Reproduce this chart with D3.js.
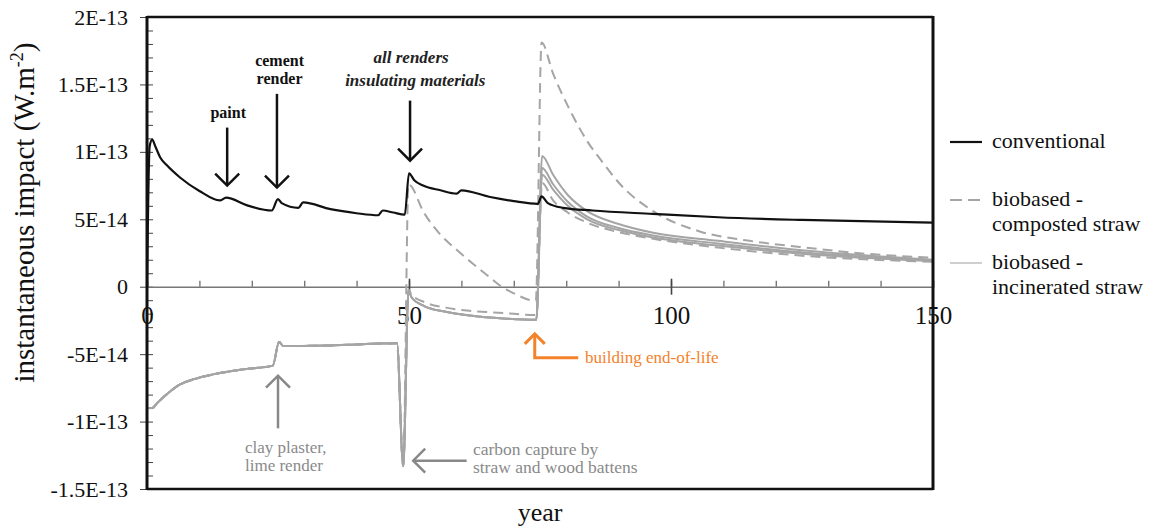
<!DOCTYPE html>
<html>
<head>
<meta charset="utf-8">
<script src="https://cdn.jsdelivr.net/npm/d3@7"></script>
<style>
  body { margin: 0; background: #fff; }
  svg { display: block; }
</style>
</head>
<body>
<div id="chart"></div>
<script>
// ---- data ----
const yTickValues = [-1.5e-13, -1e-13, -5e-14, 0, 5e-14, 1e-13, 1.5e-13, 2e-13];
const yTickLabels = ["-1.5E-13", "-1E-13", "-5E-14", "0", "5E-14", "1E-13", "1.5E-13", "2E-13"];
const xTickValues = [0, 50, 100, 150];
const xTickLabels = ["0", "50", "100", "150"];

// [year, W.m-2]
const conventional = [
  [0, 0], [0.5, 1.04e-13], [1, 1.09e-13], [1.6, 1.04e-13], [2.5, 9.6e-14], [3.8, 9.0e-14],
  [6.3, 8.1e-14], [10, 7.1e-14], [13.9, 6.4e-14], [15.1, 6.6e-14], [19, 6.05e-14],
  [23.8, 5.65e-14], [25, 6.5e-14], [25.7, 6.2e-14], [28.9, 5.85e-14], [29.8, 6.25e-14],
  [35, 5.75e-14], [40, 5.45e-14], [44.1, 5.3e-14], [45, 5.65e-14], [47, 5.5e-14],
  [49.2, 5.35e-14], [50, 8.4e-14], [51, 7.9e-14], [52.7, 7.5e-14], [56, 7.15e-14],
  [59.1, 6.9e-14], [60, 7.15e-14], [65.5, 6.65e-14], [70, 6.35e-14], [74.6, 6.15e-14],
  [75.3, 6.7e-14], [76.5, 6.2e-14], [79.4, 5.85e-14], [85, 5.65e-14], [96.5, 5.4e-14],
  [109, 5.15e-14], [125, 4.95e-14], [150, 4.75e-14]
];

// common to every biobased variant until the insulation renewal
const biobasedShared = [
  [0, -9.0e-14], [1, -9.0e-14], [2, -8.6e-14], [4, -7.9e-14], [6.3, -7.25e-14],
  [9, -6.85e-14], [12.6, -6.5e-14], [19, -6.1e-14], [24, -5.85e-14], [25.2, -4.1e-14],
  [26, -4.4e-14], [35, -4.35e-14], [47.7, -4.2e-14], [48.9, -1.33e-13]
];

const compostedHigh = [
  [49.9, 7.6e-14], [50.3, 7.5e-14], [52.7, 5.6e-14], [55.9, 3.9e-14], [59.2, 2.7e-14],
  [62.2, 1.7e-14], [65.5, 0.67e-14], [67.4, 0.07e-14], [69.8, -0.45e-14], [74.2, -1.05e-14],
  [75.3, 1.81e-13], [77.5, 1.58e-13], [80.7, 1.31e-13], [84, 1.08e-13], [87, 9.2e-14],
  [90.3, 7.6e-14], [96.6, 5.6e-14], [105.5, 4.1e-14], [115, 3.4e-14], [124.6, 2.95e-14],
  [137, 2.45e-14], [150, 2.15e-14]
];
const compostedLow = [
  [49.9, -0.2e-14], [50.5, -0.6e-14], [53, -1.15e-14], [57, -1.55e-14], [62, -1.8e-14],
  [68, -1.95e-14], [74.3, -2.1e-14], [75.4, 7.7e-14], [77.5, 6.4e-14], [80.3, 5.5e-14],
  [84, 4.75e-14], [90, 4.05e-14], [96.6, 3.55e-14], [109, 2.9e-14], [125, 2.3e-14],
  [150, 1.85e-14]
];
const incineratedA = [
  [49.9, -0.3e-14], [50.5, -0.8e-14], [53, -1.45e-14], [57, -1.85e-14], [62, -2.15e-14],
  [68, -2.35e-14], [74.3, -2.45e-14], [75.4, 9.7e-14], [77.5, 8.3e-14], [80.3, 6.8e-14],
  [84, 5.6e-14], [90, 4.65e-14], [96.6, 4.0e-14], [109, 3.4e-14], [125, 2.7e-14],
  [150, 2.0e-14]
];
const incineratedB = [
  [49.9, -0.3e-14], [50.5, -0.8e-14], [53, -1.45e-14], [57, -1.85e-14], [62, -2.15e-14],
  [68, -2.35e-14], [74.3, -2.45e-14], [75.4, 8.8e-14], [77.5, 7.6e-14], [80.3, 6.3e-14],
  [84, 5.2e-14], [90, 4.35e-14], [96.6, 3.8e-14], [109, 3.2e-14], [125, 2.55e-14],
  [150, 1.95e-14]
];
const incineratedC = [
  [49.9, -0.3e-14], [50.5, -0.8e-14], [53, -1.45e-14], [57, -1.85e-14], [62, -2.15e-14],
  [68, -2.35e-14], [74.3, -2.45e-14], [75.4, 8.3e-14], [77.5, 7.2e-14], [80.3, 6.0e-14],
  [84, 5.0e-14], [90, 4.2e-14], [96.6, 3.65e-14], [109, 3.05e-14], [125, 2.45e-14],
  [150, 1.9e-14]
];

const legendLabels = [["conventional"], ["biobased -", "composted straw"], ["biobased -", "incinerated straw"]];

// ---- layout ----
const width = 1160, height = 529;
const margin = { top: 17, right: 227, bottom: 40, left: 147 };
const FONT = '"Liberation Serif", "Times New Roman", Times, serif';
const GREY = "#a5a5a5";

const svg = d3.select("#chart").append("svg")
  .attr("width", width).attr("height", height)
  .style("background", "#fff");

const x = d3.scaleLinear().domain([0, 150]).range([margin.left, width - margin.right]);
const y = d3.scaleLinear().domain([-1.5e-13, 2e-13]).range([height - margin.bottom, margin.top]);

// Y axis: major ticks outside, minor ticks inside
svg.append("g")
  .attr("transform", `translate(${x(0)},0)`)
  .call(d3.axisLeft(y).tickValues(d3.range(-15, 21, 1).map(d => d * 1e-14)).tickSize(-6).tickFormat(""))
  .call(g => g.select(".domain").remove())
  .call(g => g.selectAll("line").attr("stroke", "#444"));

svg.append("g")
  .attr("transform", `translate(${x(0)},0)`)
  .call(d3.axisLeft(y).tickValues(yTickValues).tickSize(7).tickPadding(12)
    .tickFormat((d, i) => yTickLabels[i]))
  .call(g => g.select(".domain").remove())
  .call(g => g.selectAll("line").attr("stroke", "#444"))
  .call(g => g.selectAll("text").attr("font-family", FONT).attr("font-size", 22).attr("fill", "#111"));

// X axis along zero
const xAxisG = svg.append("g").attr("transform", `translate(0,${y(0)})`);
xAxisG.call(d3.axisBottom(x).tickValues(d3.range(0, 151, 10)).tickSize(-6).tickFormat(""))
  .call(g => g.select(".domain").attr("stroke", "#777").attr("stroke-width", 1.6))
  .call(g => g.selectAll("line").attr("stroke", "#777").attr("stroke-width", 1.4));
xAxisG.append("g")
  .call(d3.axisBottom(x).tickValues([50, 100]).tickSize(8).tickFormat(""))
  .call(g => g.select(".domain").remove())
  .call(g => g.selectAll("line").attr("stroke", "#444").attr("stroke-width", 1.6));
xAxisG.append("g")
  .call(d3.axisTop(x).tickValues([50, 100]).tickSize(8).tickFormat(""))
  .call(g => g.select(".domain").remove())
  .call(g => g.selectAll("line").attr("stroke", "#444").attr("stroke-width", 1.6));

// series
const line = d3.line()
  .x(d => x(d[0]))
  .y(d => y(d[1]))
  .curve(d3.curveMonotoneX);

const greySeries = [
  { data: biobasedShared.concat(incineratedA), dash: null },
  { data: biobasedShared.concat(incineratedB), dash: null },
  { data: biobasedShared.concat(incineratedC), dash: null },
  { data: biobasedShared.concat(compostedLow), dash: "10,6" },
  { data: biobasedShared.concat(compostedHigh), dash: "10,6" }
];

svg.append("g").selectAll("path")
  .data(greySeries)
  .join("path")
  .attr("d", d => line(d.data))
  .attr("fill", "none")
  .attr("stroke", GREY)
  .attr("stroke-width", 2)
  .attr("stroke-dasharray", d => d.dash);

svg.append("path")
  .attr("d", line(conventional))
  .attr("fill", "none")
  .attr("stroke", "#111")
  .attr("stroke-width", 2.2);

// x tick labels (drawn below the zero line)
xAxisG.append("g")
  .call(d3.axisBottom(x).tickValues(xTickValues).tickSize(0).tickPadding(20)
    .tickFormat((d, i) => xTickLabels[i]))
  .call(g => g.select(".domain").remove())
  .call(g => g.selectAll("text").attr("font-family", FONT).attr("font-size", 25).attr("fill", "#111"));

// frame
const fr = svg.append("g").attr("stroke", "#111").attr("fill", "none");
fr.append("line").attr("x1", x(0)).attr("x2", x(150)).attr("y1", y(2e-13)).attr("y2", y(2e-13)).attr("stroke-width", 2.5);
fr.append("line").attr("x1", x(0)).attr("x2", x(150)).attr("y1", y(-1.5e-13)).attr("y2", y(-1.5e-13)).attr("stroke-width", 2.5);
fr.append("line").attr("x1", x(0)).attr("x2", x(0)).attr("y1", y(2e-13) - 1).attr("y2", y(-1.5e-13) + 1).attr("stroke-width", 3);
fr.append("line").attr("x1", x(150)).attr("x2", x(150)).attr("y1", y(2e-13) - 1).attr("y2", y(-1.5e-13) + 1).attr("stroke-width", 3);

// axis titles
svg.append("text")
  .attr("x", x(75)).attr("y", 521)
  .attr("text-anchor", "middle")
  .attr("font-family", FONT).attr("font-size", 26).attr("fill", "#111")
  .text("year");

const yTitle = svg.append("text")
  .attr("transform", `translate(34,${y(0.55e-13)}) rotate(-90)`)
  .attr("text-anchor", "middle")
  .attr("font-family", FONT).attr("font-size", 29).attr("fill", "#111");
yTitle.append("tspan").text("instantaneous impact (W.m");
yTitle.append("tspan").attr("font-size", 18).attr("dy", -11).text("-2");
yTitle.append("tspan").attr("dy", 11).text(")");

// legend
const lgX = 950, lgY = [142, 200, 263];
const lg = svg.append("g");
lg.append("line").attr("x1", lgX).attr("x2", lgX + 32).attr("y1", lgY[0]).attr("y2", lgY[0])
  .attr("stroke", "#111").attr("stroke-width", 2.2);
lg.append("line").attr("x1", lgX).attr("x2", lgX + 32).attr("y1", lgY[1]).attr("y2", lgY[1])
  .attr("stroke", GREY).attr("stroke-width", 2).attr("stroke-dasharray", "12,6");
lg.append("line").attr("x1", lgX).attr("x2", lgX + 32).attr("y1", lgY[2]).attr("y2", lgY[2])
  .attr("stroke", "#cfcfcf").attr("stroke-width", 2);
legendLabels.forEach((lines, i) => {
  const t = lg.append("text")
    .attr("x", 992).attr("y", lgY[i] + 6)
    .attr("font-family", FONT).attr("font-size", 22).attr("fill", "#111");
  lines.forEach((s, j) => t.append("tspan").attr("x", 992).attr("dy", j ? 25 : 0).text(s));
});

// annotations
const ann = svg.append("g").attr("font-family", FONT);

function downArrow(g, xv, y0, y1, color) {
  const px = x(xv), top = y(y0), tip = y(y1);
  g.append("line").attr("x1", px).attr("x2", px).attr("y1", top).attr("y2", tip)
    .attr("stroke", color).attr("stroke-width", 2.5);
  g.append("path").attr("d", `M${px - 12},${tip - 12} L${px},${tip} L${px + 12},${tip - 12}`)
    .attr("fill", "none").attr("stroke", color).attr("stroke-width", 2.5);
}
function upArrow(g, xv, y0, y1, color) {
  const px = x(xv), bot = y(y0), tip = y(y1);
  g.append("line").attr("x1", px).attr("x2", px).attr("y1", bot).attr("y2", tip)
    .attr("stroke", color).attr("stroke-width", 2.5);
  g.append("path").attr("d", `M${px - 12},${tip + 12} L${px},${tip} L${px + 12},${tip + 12}`)
    .attr("fill", "none").attr("stroke", color).attr("stroke-width", 2.5);
}

// paint
downArrow(ann, 15.3, 1.18e-13, 7.5e-14, "#111");
ann.append("text").attr("x", x(15.5)).attr("y", y(1.25e-13)).attr("text-anchor", "middle")
  .attr("font-size", 16).attr("font-weight", "bold").attr("fill", "#111").text("paint");

// cement render
downArrow(ann, 24.8, 1.43e-13, 7.35e-14, "#111");
ann.append("text").attr("x", x(25.3)).attr("y", y(1.64e-13)).attr("text-anchor", "middle")
  .attr("font-size", 16).attr("font-weight", "bold").attr("fill", "#111").text("cement");
ann.append("text").attr("x", x(25.3)).attr("y", y(1.5e-13)).attr("text-anchor", "middle")
  .attr("font-size", 16).attr("font-weight", "bold").attr("fill", "#111").text("render");

// all renders / insulating materials
downArrow(ann, 50.2, 1.38e-13, 9.35e-14, "#111");
ann.append("text").attr("x", x(50.4)).attr("y", y(1.66e-13)).attr("text-anchor", "middle")
  .attr("font-size", 17).attr("font-weight", "bold").attr("font-style", "italic").attr("fill", "#222")
  .text("all renders");
ann.append("text").attr("x", x(51.2)).attr("y", y(1.49e-13)).attr("text-anchor", "middle")
  .attr("font-size", 17).attr("font-weight", "bold").attr("font-style", "italic").attr("fill", "#222")
  .text("insulating materials");

// building end-of-life (orange elbow arrow)
const ORANGE = "#f3822c";
{
  const px = x(74), tip = y(-3.5e-14), yy = y(-5.27e-14);
  ann.append("path").attr("d", `M${x(82.3)},${yy} L${px},${yy} L${px},${tip}`)
    .attr("fill", "none").attr("stroke", ORANGE).attr("stroke-width", 3);
  ann.append("path").attr("d", `M${px - 10},${tip + 10} L${px},${tip} L${px + 10},${tip + 10}`)
    .attr("fill", "none").attr("stroke", ORANGE).attr("stroke-width", 3);
  ann.append("text").attr("x", x(83.6)).attr("y", yy + 5)
    .attr("font-size", 17).attr("fill", ORANGE).text("building end-of-life");
}

// clay plaster, lime render
upArrow(ann, 25, -1.05e-13, -6.6e-14, "#888");
ann.append("text").attr("x", x(18.7)).attr("y", y(-1.23e-13))
  .attr("font-size", 17).attr("fill", "#8a8a8a").text("clay plaster,");
ann.append("text").attr("x", x(18.7)).attr("y", y(-1.365e-13))
  .attr("font-size", 17).attr("fill", "#8a8a8a").text("lime render");

// carbon capture
{
  const py = y(-1.29e-13), x0 = x(61), tip = x(50.8);
  ann.append("line").attr("x1", x0).attr("x2", tip).attr("y1", py).attr("y2", py)
    .attr("stroke", "#888").attr("stroke-width", 2.5);
  ann.append("path").attr("d", `M${tip + 12},${py - 12} L${tip},${py} L${tip + 12},${py + 12}`)
    .attr("fill", "none").attr("stroke", "#888").attr("stroke-width", 2.5);
  ann.append("text").attr("x", x(62.2)).attr("y", y(-1.25e-13))
    .attr("font-size", 17.5).attr("fill", "#8a8a8a").text("carbon capture by");
  ann.append("text").attr("x", x(62.2)).attr("y", y(-1.385e-13))
    .attr("font-size", 17.5).attr("fill", "#8a8a8a").text("straw and wood battens");
}
</script>
</body>
</html>
